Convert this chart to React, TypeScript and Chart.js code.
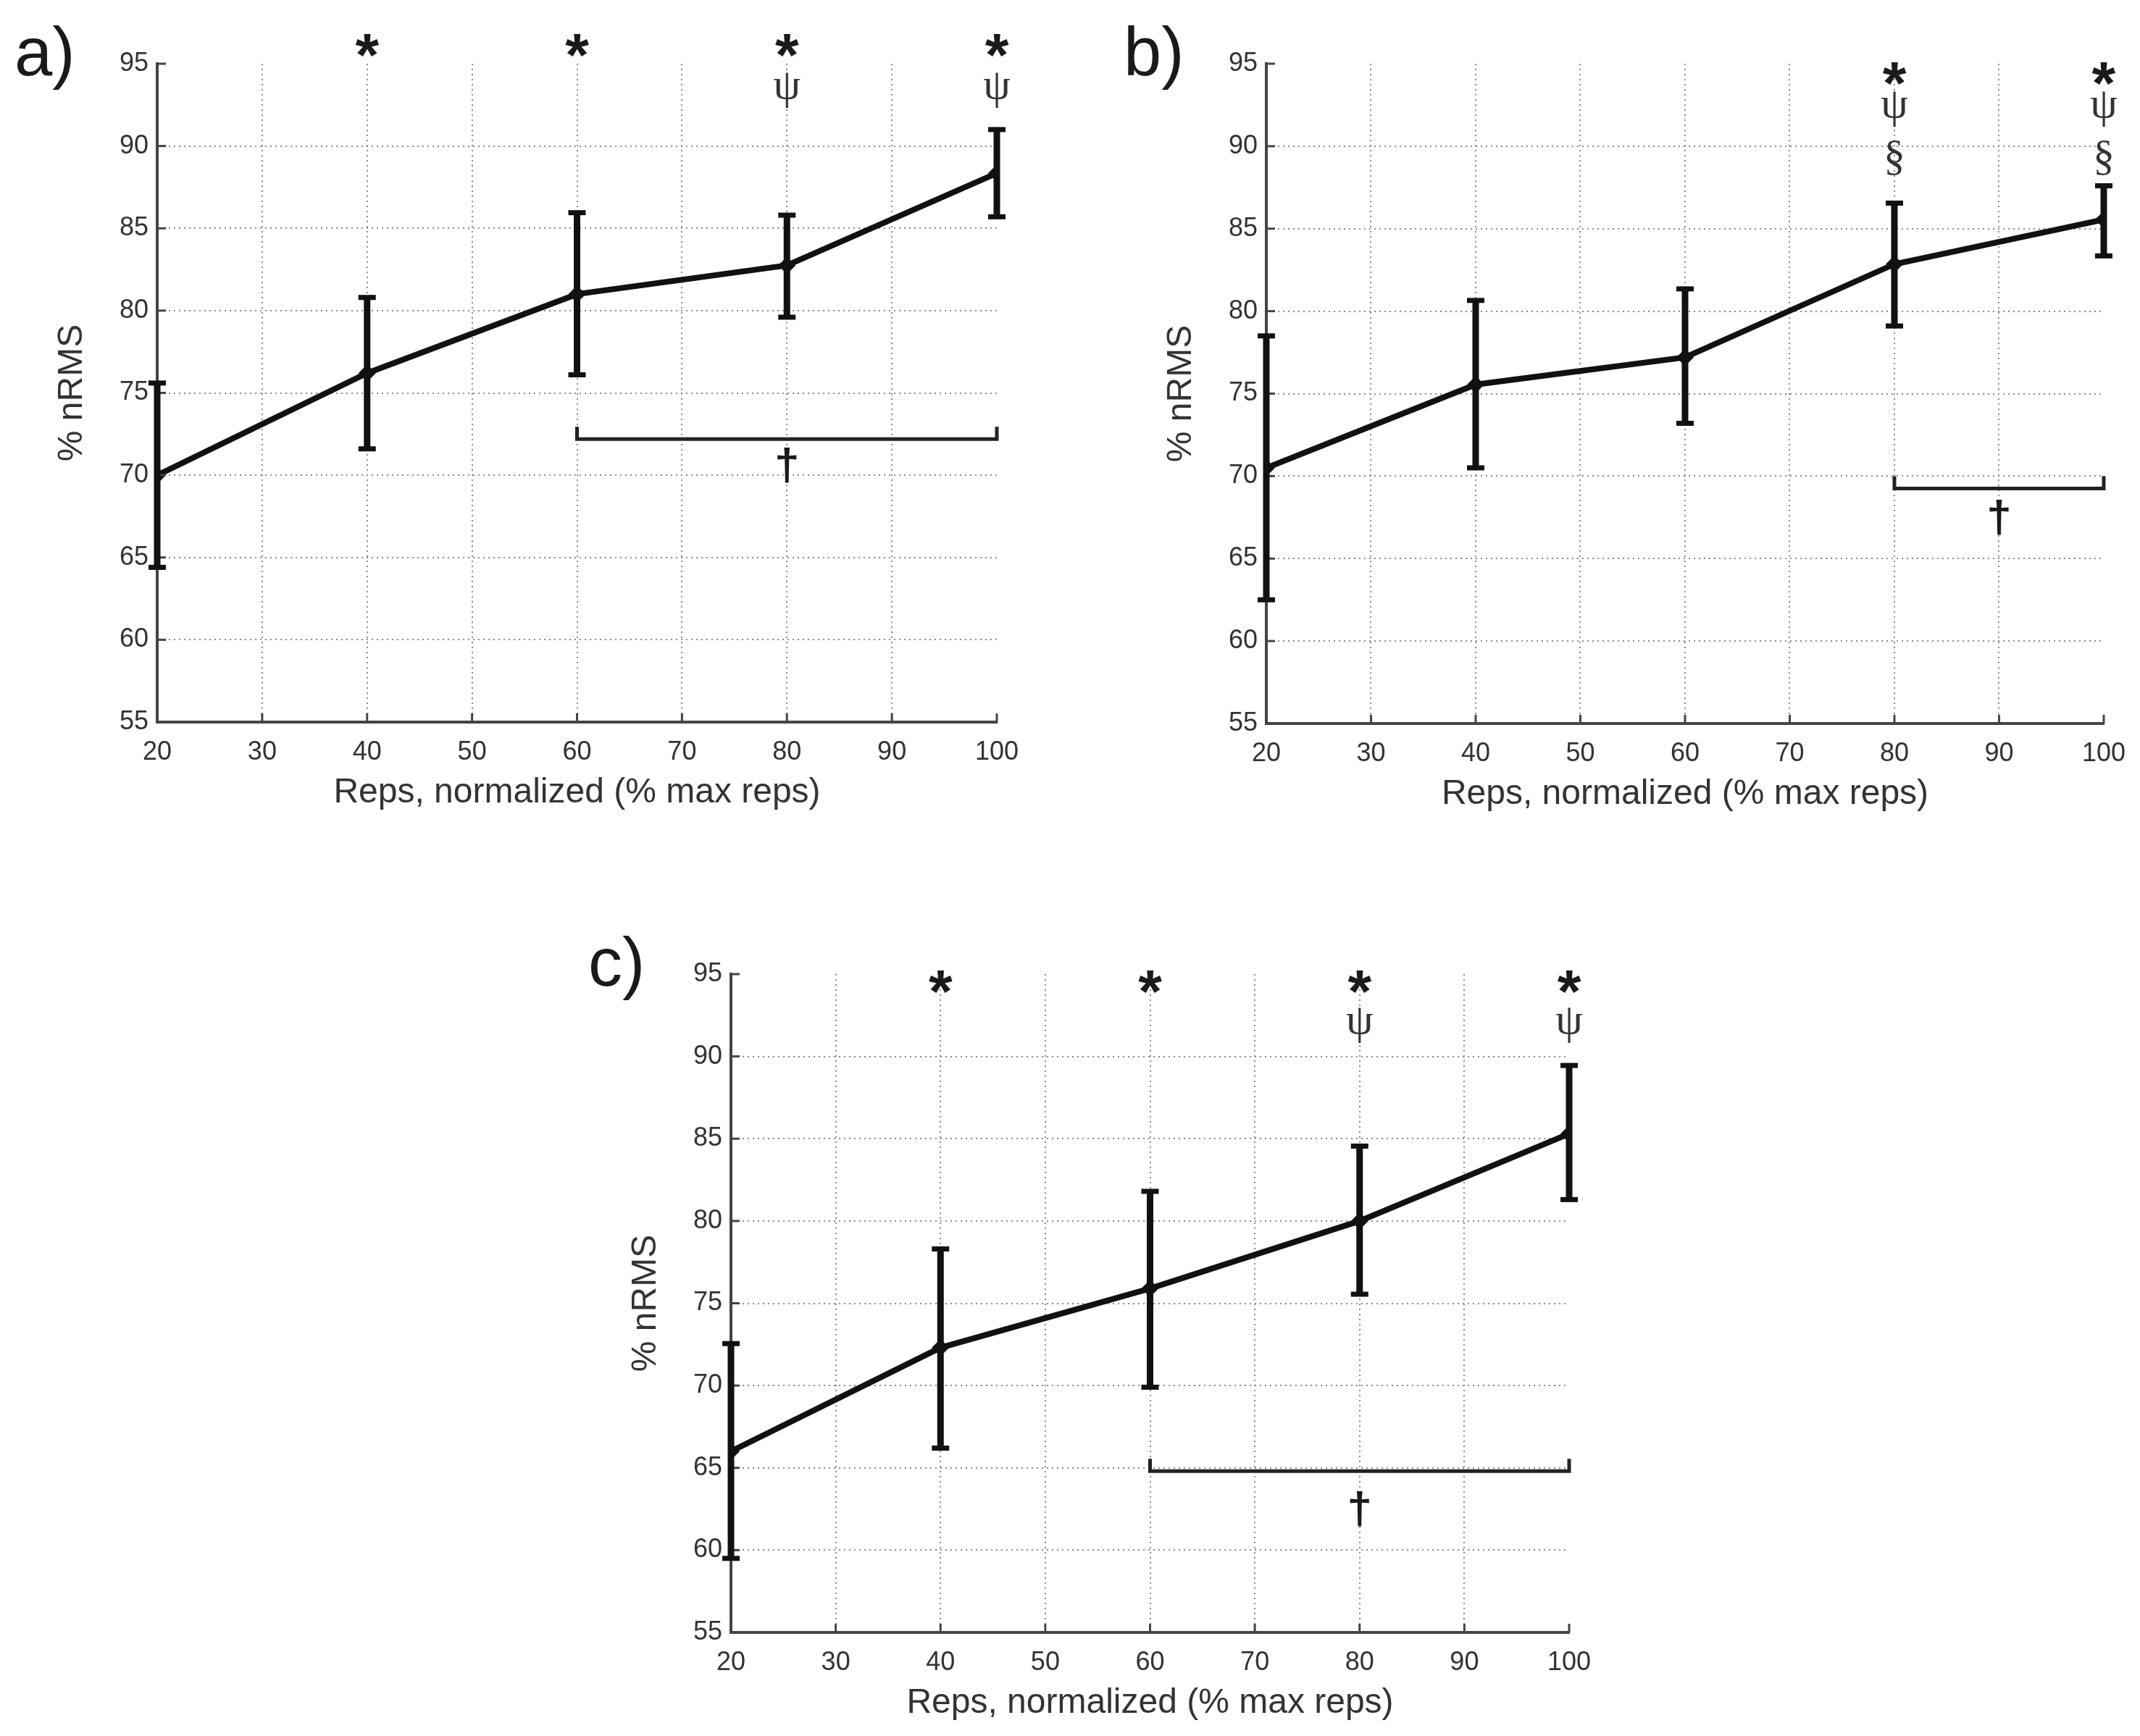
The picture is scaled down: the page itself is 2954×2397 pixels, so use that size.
import { useEffect, useRef } from "react";
import { Chart, registerables } from "chart.js";

Chart.register(...registerables);

// x positions (% of max reps)
const reps = [20, 40, 60, 80, 100];

// a)
const meanA = [70.0, 76.2, 81.0, 82.75, 88.35];
const upperA = [75.6, 80.8, 85.95, 85.8, 91.0];
const lowerA = [64.4, 71.6, 76.1, 79.6, 85.7];
const marksA = [
  { sym: "*", at: [40, 60, 80, 100], y: 96.1 },
  { sym: "ψ", at: [80, 100], y: 93.4 },
];
const bracketA = [60, 100, 72.2];
const daggerA = [80, 70.6];

// b)
const meanB = [70.5, 75.55, 77.2, 82.85, 85.55];
const upperB = [78.5, 80.65, 81.35, 86.55, 87.6];
const lowerB = [62.5, 70.5, 73.2, 79.1, 83.35];
const marksB = [
  { sym: "*", at: [80, 100], y: 94.4 },
  { sym: "ψ", at: [80, 100], y: 92.25 },
  { sym: "§", at: [80, 100], y: 89.3 },
];
const bracketB = [80, 100, 69.25];
const daggerB = [90, 67.5];

// c)
const meanC = [66.0, 72.3, 75.9, 80.0, 85.3];
const upperC = [72.55, 78.3, 81.8, 84.55, 89.45];
const lowerC = [59.5, 66.2, 69.9, 75.55, 81.3];
const marksC = [
  { sym: "*", at: [40, 60, 80, 100], y: 94.5 },
  { sym: "ψ", at: [80, 100], y: 91.9 },
];
const bracketC = [60, 100, 64.8];
const daggerC = [80, 62.5];

const xTitle = "Reps, normalized (% max reps)";
const yTitle = "% nRMS";

const W = 2954;
const H = 2397;
const INK = "#111";
const AXIS = "#444";
const TEXT = "#333";
const GRID = "#8a8a8a";
const SANS = "'Liberation Sans', Arial, sans-serif";
const SERIF = "'Liberation Serif', 'Times New Roman', serif";

type Mark = { sym: string; at: number[]; y: number };
type Panel = {
  label: string;
  box: { left: number; right: number; top: number; bottom: number };
  mean: number[];
  upper: number[];
  lower: number[];
  marks: Mark[];
  bracket: number[];
  dagger: number[];
};

const panels: Panel[] = [
  { label: "a)", box: { left: 217, right: 1376, top: 88, bottom: 997 }, mean: meanA, upper: upperA, lower: lowerA, marks: marksA, bracket: bracketA, dagger: daggerA },
  { label: "b)", box: { left: 1748, right: 2907, top: 88, bottom: 999 }, mean: meanB, upper: upperB, lower: lowerB, marks: marksB, bracket: bracketB, dagger: daggerB },
  { label: "c)", box: { left: 1009, right: 2166, top: 1345, bottom: 2254 }, mean: meanC, upper: upperC, lower: lowerC, marks: marksC, bracket: bracketC, dagger: daggerC },
];

function glyph(ctx: CanvasRenderingContext2D, s: string, cx: number, cy: number) {
  const m = ctx.measureText(s);
  const base = cy + (m.actualBoundingBoxAscent - m.actualBoundingBoxDescent) / 2;
  ctx.fillText(s, cx, base);
}

function makeOverlay(p: Panel) {
  return {
    id: "overlay",
    afterDatasetsDraw(chart: any) {
      const ctx: CanvasRenderingContext2D = chart.ctx;
      const xs = chart.scales.x;
      const ys = chart.scales.y;
      const { left, right, top, bottom } = chart.chartArea;
      const line = (x1: number, y1: number, x2: number, y2: number) => {
        ctx.beginPath();
        ctx.moveTo(x1, y1);
        ctx.lineTo(x2, y2);
        ctx.stroke();
      };
      ctx.save();

      // inward tick marks
      ctx.strokeStyle = AXIS;
      ctx.lineWidth = 3;
      ys.ticks.forEach((t: any) => {
        const y = ys.getPixelForValue(t.value);
        line(left, y, left + 12, y);
      });
      xs.ticks.forEach((t: any) => {
        const x = xs.getPixelForValue(t.value);
        line(x, bottom, x, bottom - 12);
      });

      // error bars
      ctx.strokeStyle = INK;
      reps.forEach((r, i) => {
        const x = xs.getPixelForValue(r);
        const yt = ys.getPixelForValue(p.upper[i]);
        const yb = ys.getPixelForValue(p.lower[i]);
        ctx.lineWidth = 9;
        line(x, yt, x, yb);
        ctx.lineWidth = 7;
        line(x - 12, yt, x + 12, yt);
        line(x - 12, yb, x + 12, yb);
      });

      // bracket
      const bx1 = xs.getPixelForValue(p.bracket[0]);
      const bx2 = xs.getPixelForValue(p.bracket[1]);
      const by = ys.getPixelForValue(p.bracket[2]);
      ctx.strokeStyle = "#222";
      ctx.lineWidth = 5;
      ctx.beginPath();
      ctx.moveTo(bx1, by - 17);
      ctx.lineTo(bx1, by);
      ctx.lineTo(bx2, by);
      ctx.lineTo(bx2, by - 17);
      ctx.stroke();

      ctx.fillStyle = "#1a1a1a";
      ctx.textAlign = "center";
      ctx.font = `bold 62px ${SANS}`;
      glyph(ctx, "†", xs.getPixelForValue(p.dagger[0]), ys.getPixelForValue(p.dagger[1]));

      // significance symbols
      p.marks.forEach((m) => {
        ctx.font = m.sym === "*" ? `bold 84px ${SANS}` : `60px ${SERIF}`;
        ctx.fillStyle = m.sym === "*" ? "#1a1a1a" : "#333";
        m.at.forEach((v) => glyph(ctx, m.sym, xs.getPixelForValue(v), ys.getPixelForValue(m.y)));
      });

      // axis titles
      ctx.fillStyle = TEXT;
      ctx.font = `48px ${SANS}`;
      ctx.textBaseline = "middle";
      ctx.fillText(xTitle, (left + right) / 2, bottom + 98);
      ctx.save();
      ctx.translate(left - 117, (top + bottom) / 2);
      ctx.rotate(-Math.PI / 2);
      ctx.fillText(yTitle, 0, 0);
      ctx.restore();

      // panel letter
      ctx.textBaseline = "alphabetic";
      ctx.textAlign = "left";
      ctx.fillStyle = "#1a1a1a";
      ctx.font = `94px ${SANS}`;
      ctx.fillText(p.label, left - 197, top + 16);

      ctx.restore();
    },
  };
}

function PanelChart({ p }: { p: Panel }) {
  const ref = useRef<HTMLCanvasElement | null>(null);

  useEffect(() => {
    if (!ref.current) return;
    const ctx = ref.current.getContext("2d");
    if (!ctx) return;
    const tickFont = { family: SANS, size: 36 };
    const hideEnds = (lo: number, hi: number) => (c: any) =>
      c.tick && (c.tick.value === lo || c.tick.value === hi) ? "rgba(0,0,0,0)" : GRID;

    const chart = new Chart(ctx, {
      type: "line",
      data: {
        datasets: [
          {
            data: reps.map((x, i) => ({ x, y: p.mean[i] })),
            borderColor: INK,
            borderWidth: 8,
            pointStyle: "rectRot",
            pointRadius: 12,
            pointBackgroundColor: INK,
            pointBorderWidth: 0,
            tension: 0,
            fill: false,
          },
        ],
      },
      options: {
        animation: false,
        responsive: false,
        devicePixelRatio: 1,
        layout: {
          padding: {
            left: p.box.left - 60,
            top: p.box.top,
            right: W - p.box.right,
            bottom: H - p.box.bottom - 80,
          },
        },
        plugins: { legend: { display: false }, tooltip: { enabled: false } },
        scales: {
          x: {
            type: "linear",
            min: 20,
            max: 100,
            ticks: { stepSize: 10, color: TEXT, font: tickFont, padding: 20, maxRotation: 0, autoSkip: false },
            grid: { color: hideEnds(20, 100), lineWidth: 2, drawTicks: false },
            border: { color: AXIS, width: 4, dash: [2, 5] },
            afterFit: (s: any) => {
              s.height = 80;
            },
          },
          y: {
            min: 55,
            max: 95,
            ticks: { stepSize: 5, color: TEXT, font: tickFont, padding: 12, autoSkip: false },
            grid: { color: hideEnds(55, 95), lineWidth: 2, drawTicks: false },
            border: { color: AXIS, width: 4, dash: [2, 5] },
            afterFit: (s: any) => {
              s.width = 60;
            },
          },
        },
      } as any,
      plugins: [makeOverlay(p)],
    });

    return () => {
      chart.destroy();
    };
  }, [p]);

  return (
    <canvas
      ref={ref}
      width={W}
      height={H}
      style={{ position: "absolute", left: 0, top: 0, width: W, height: H }}
    />
  );
}

export default function App() {
  useEffect(() => {
    document.body.style.margin = "0";
    document.body.style.background = "#fff";
  }, []);

  return (
    <div style={{ position: "relative", width: W, height: H, background: "#fff" }}>
      {panels.map((p) => (
        <PanelChart key={p.label} p={p} />
      ))}
    </div>
  );
}
